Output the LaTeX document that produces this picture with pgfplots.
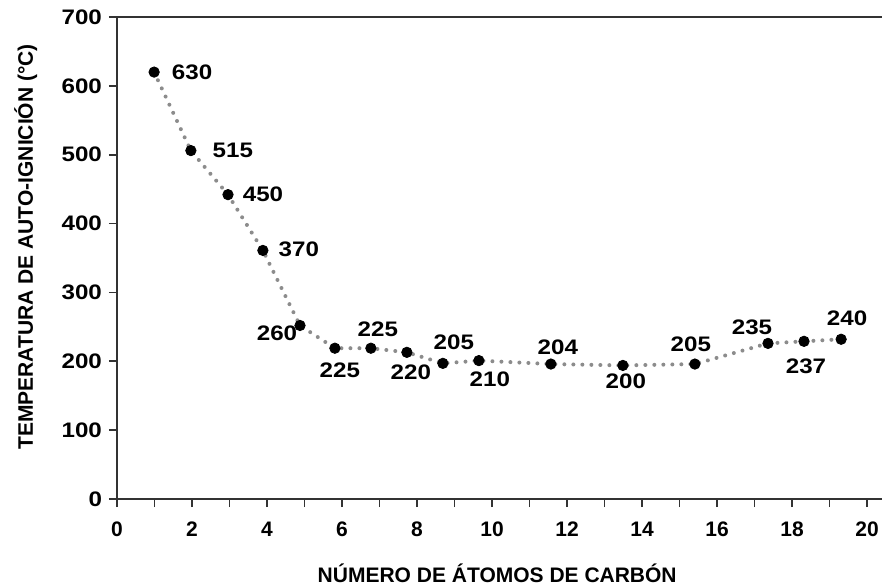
\documentclass[border=0pt]{standalone}
\usepackage{fontspec}
\setmainfont{Liberation Sans}
\newfontfamily\widefont[FakeStretch=1.15]{Liberation Sans}
\usepackage{pgfplots}
\pgfplotsset{compat=1.18}
\usepackage{pgfplotstable}

\pgfplotstableread{
x y lbl dx dy
0.99 620 630 38 0
1.97 506 515 42 0
2.96 442 450 35 0
3.89 361 370 36 -1
4.88 252 260 -23 8
5.81 219 225 5 22
6.77 219 225 7 -19
7.73 213 220 4 20
8.69 197 205 11 -21
9.65 201 210 11 19
11.57 196 204 7 -17
13.49 194 200 3 16
15.41 196 205 -4 -20
17.36 226 235 -16 -16
18.32 229 237 2 25
19.31 232 240 6 -21
}\datatable

\newcommand\chartfont{\fontsize{10.5}{12}\selectfont\bfseries}
\newcommand\widechartfont{\widefont\fontsize{10.5}{12}\selectfont\bfseries}

\begin{document}
\begin{tikzpicture}
\begin{axis}[
  scale only axis, width=382.5pt, height=241pt,
  xmin=0, xmax=20.4, ymin=0, ymax=700,
  axis x line=box, axis y line=left,
  axis line style={-, line width=0.9pt, color=black!80},
  xtick={0,2,...,20}, minor xtick={1,3,...,19},
  ytick={0,100,...,700},
  xtick pos=left, ytick pos=left,
  tick align=outside,
  major tick length=4pt, minor tick length=4pt,
  every tick/.style={line width=0.8pt, color=black!80},
  xticklabel style={font=\chartfont, yshift=-4pt},
  yticklabel style={font=\widechartfont},
  /pgf/number format/assume math mode=true,
  label style={font=\chartfont},
  xlabel={NÚMERO DE ÁTOMOS DE CARBÓN},
  ylabel={TEMPERATURA DE AUTO-IGNICIÓN (°C)},
  xlabel style={at={(axis description cs:0.497,-0.174)}, anchor=base},
  ylabel style={at={(axis description cs:-0.1098,0.523)}, anchor=base},
  clip=false,
]
\addplot[black!45, line width=2pt, line cap=round, dash pattern=on 0pt off 4.5pt] table[x=x,y=y]{\datatable};
\addplot[only marks, mark=*, mark size=2.6pt, black,
  point meta=explicit symbolic, nodes near coords,
  visualization depends on={\thisrow{dx}\as\dx},
  visualization depends on={\thisrow{dy}\as\dy},
  every node near coord/.append style={font=\widechartfont, black, anchor=center,
     xshift={0.5pt*(\dx)}, yshift={0.5pt*(0-(\dy))}}]
  table[x=x,y=y,meta=lbl]{\datatable};
\end{axis}
\pgfresetboundingbox
\path (-58.5pt,-43pt) rectangle (382.5pt,249.5pt);
\end{tikzpicture}
\end{document}
